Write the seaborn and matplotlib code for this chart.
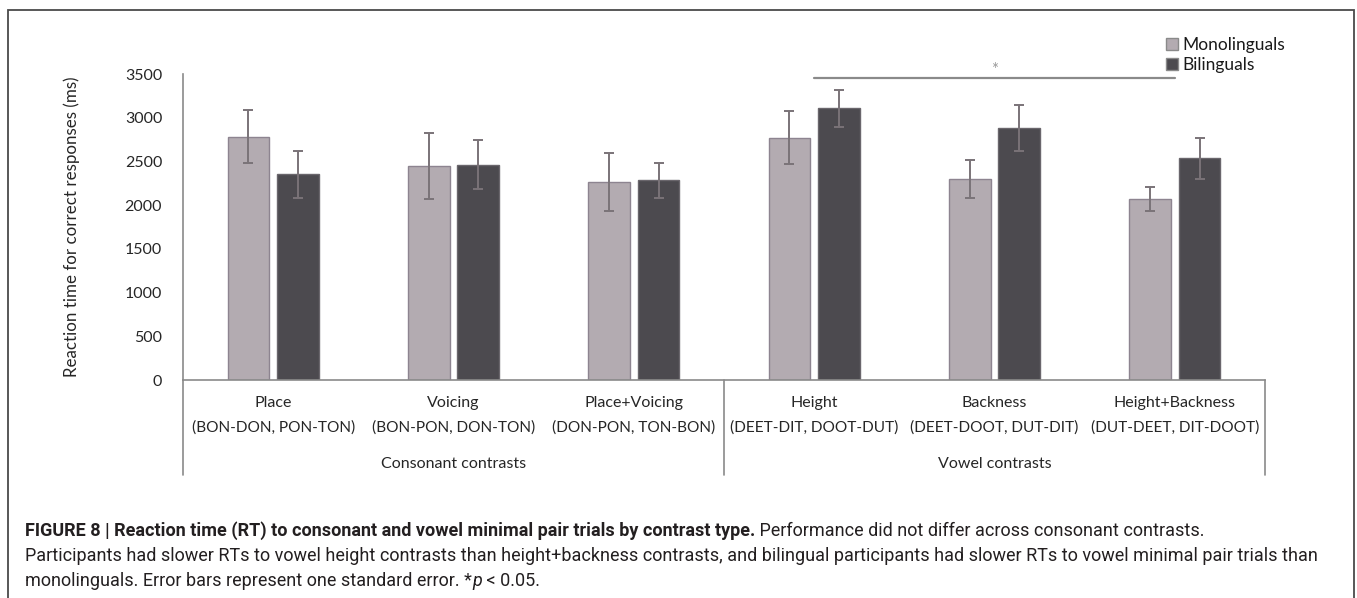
import matplotlib
matplotlib.use("Agg")
import matplotlib.pyplot as plt
import matplotlib.transforms as mtransforms
from matplotlib.patches import Rectangle
from matplotlib import font_manager
import pandas as pd
import seaborn as sns

# ---- data -------------------------------------------------------------
contrasts = ["Place", "Voicing", "Place+Voicing", "Height", "Backness", "Height+Backness"]
pairs = ["(BON-DON, PON-TON)", "(BON-PON, DON-TON)", "(DON-PON, TON-BON)",
         "(DEET-DIT, DOOT-DUT)", "(DEET-DOOT, DUT-DIT)", "(DUT-DEET, DIT-DOOT)"]
group_names = ["Consonant contrasts", "Vowel contrasts"]
groups = ["Monolinguals", "Bilinguals"]
mono_rt = [2785, 2445, 2265, 2772, 2300, 2075]
bi_rt = [2353, 2460, 2283, 3108, 2885, 2535]
mono_se = [305, 380, 327, 300, 215, 137]
bi_se = [271, 280, 197, 210, 263, 238]
y_ticks = [0, 500, 1000, 1500, 2000, 2500, 3000, 3500]
sig_span = (3, 5)
sig_level = 3450

W, H = 1357, 598

df = pd.DataFrame({
    "contrast": contrasts * 2,
    "group": [groups[0]] * 6 + [groups[1]] * 6,
    "rt": mono_rt + bi_rt,
})

sns.set_theme(style="white")
installed = {f.name for f in font_manager.fontManager.ttflist}
chart_font = "Lato" if "Lato" in installed else "DejaVu Sans"
caption_font = "Liberation Sans Narrow" if "Liberation Sans Narrow" in installed else "Roboto"
plt.rcParams["font.family"] = [chart_font, "DejaVu Sans"]

fill = {"Monolinguals": "#b4aab2", "Bilinguals": "#4c4950"}
edge = {"Monolinguals": "#8d8490", "Bilinguals": "#6a666c"}
text_c = "#262626"
axis_c = "#8a8a8a"

fig = plt.figure(figsize=(W / 100, H / 100), dpi=100)
ax = fig.add_axes([183 / W, 1 - 380 / H, (1265 - 183) / W, (380 - 74) / H])

sns.barplot(data=df, x="contrast", y="rt", hue="group", hue_order=groups,
            palette=fill, width=0.55, gap=0.16, errorbar=None,
            linewidth=1.0, ax=ax)

# edges and standard-error bars, placed on the drawn bars
for cont, g, se in zip(ax.containers, groups, [mono_se, bi_se]):
    xs, ys = [], []
    for p in cont.patches:
        p.set_edgecolor(edge[g])
        p.set_linewidth(1.0)
        xs.append(p.get_x() + p.get_width() / 2)
        ys.append(p.get_height())
    ax.errorbar(xs, ys, yerr=se, fmt="none", ecolor="#7a7378",
                elinewidth=1.4, capsize=3.8, capthick=1.4, zorder=5)

ax.set_xlim(-0.5, 5.5)
ax.set_ylim(0, 3500)
ax.set_yticks(y_ticks)
ax.set_yticklabels([str(v) for v in y_ticks], fontsize=11.5, color=text_c)
ax.tick_params(axis="y", length=0, pad=15)
ax.set_xticks([])
ax.set_xlabel("")
ax.set_ylabel("Reaction time for correct responses (ms)", fontsize=12.2,
              color=text_c, labelpad=32)

for s in ["top", "right"]:
    ax.spines[s].set_visible(False)
for s in ["left", "bottom"]:
    ax.spines[s].set_color(axis_c)
    ax.spines[s].set_linewidth(1.2)

# category labels and group table below the axis
trans = mtransforms.blended_transform_factory(ax.transData, ax.transAxes)
px = 1.0 / (380 - 74)  # axes fraction per pixel
for i, (c, p) in enumerate(zip(contrasts, pairs)):
    ax.text(i, -23 * px, c, transform=trans, ha="center", va="center",
            fontsize=11.5, color=text_c)
    ax.text(i, -48 * px, p, transform=trans, ha="center", va="center",
            fontsize=11.1, color=text_c)
for gx, gname in zip([1, 4], group_names):
    ax.text(gx, -84 * px, gname, transform=trans, ha="center", va="center",
            fontsize=11.5, color=text_c)
for dx in [-0.5, 2.5, 5.5]:
    ax.plot([dx, dx], [0, -95 * px], transform=trans, color=axis_c,
            lw=1.2, clip_on=False)

# significance bracket
ax.plot(list(sig_span), [sig_level, sig_level], color="#8a8a8a", lw=1.6,
        clip_on=False)
ax.text(sum(sig_span) / 2, sig_level + 95, "*", ha="center", va="center",
        fontsize=12, color="#9a9a9a", clip_on=False)

# legend
leg = ax.legend(loc="upper left", bbox_to_anchor=(1166 / W, 1 - 37 / H),
                bbox_transform=fig.transFigure, frameon=False,
                handlelength=0.7, handleheight=0.7, handletextpad=0.25,
                labelspacing=0.22, borderpad=0, borderaxespad=0,
                fontsize=12.5, title=None)
for t in leg.get_texts():
    t.set_color("#1a1a1a")
for h in leg.legend_handles:
    h.set_edgecolor("#8a8a8a")

# outer frame
fig.add_artist(Rectangle((8 / W, -0.1), (1354 - 8) / W, 1 - 10 / H + 0.1,
                         transform=fig.transFigure, fill=False,
                         ec="#4a4a4a", lw=1.3))

# caption
cap_c = "#231f20"
cap_size = 13.0
renderer = fig.canvas.get_renderer()


def caption_line(y_px, segments):
    x = 25 / W
    for txt, weight, style in segments:
        t = fig.text(x, 1 - y_px / H, txt, fontsize=cap_size, color=cap_c,
                     family=[caption_font, "DejaVu Sans"], weight=weight,
                     style=style, ha="left", va="center")
        bb = t.get_window_extent(renderer)
        x = bb.x1 / W


caption_line(531, [
    ("FIGURE 8 | Reaction time (RT) to consonant and vowel minimal pair trials by contrast type.", "bold", "normal"),
    (" Performance did not differ across consonant contrasts.", "normal", "normal"),
])
caption_line(556, [
    ("Participants had slower RTs to vowel height contrasts than height+backness contrasts, "
     "and bilingual participants had slower RTs to vowel minimal pair trials than", "normal", "normal"),
])
caption_line(581, [
    ("monolinguals. Error bars represent one standard error. *", "normal", "normal"),
    ("p", "normal", "italic"),
    (" < 0.05.", "normal", "normal"),
])

fig.savefig("out.png", dpi=100)
